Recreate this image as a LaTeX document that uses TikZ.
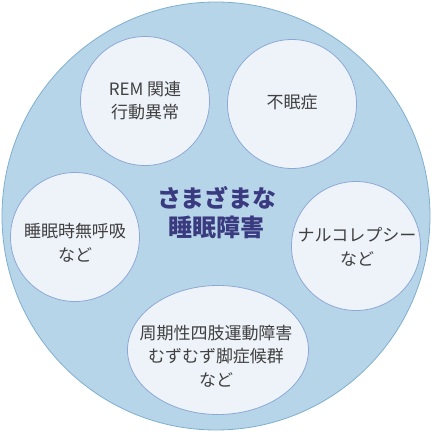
\documentclass[tikz,border=0pt]{standalone}
\usepackage{fontspec}
\setmainfont{Noto Sans CJK JP}
\usetikzlibrary{shapes.geometric}
\definecolor{outerfill}{HTML}{B7D5E8}
\definecolor{outerline}{HTML}{7FAFD0}
\definecolor{innerfill}{HTML}{EEF3FA}
\definecolor{innerline}{HTML}{8EA8D6}
\definecolor{titletext}{HTML}{3A3A80}
\definecolor{bodytext}{HTML}{404040}
\begin{document}
\begin{tikzpicture}[x=1pt, y=-1pt,
        disorder/.style={circle, draw=innerline, fill=innerfill, line width=0.8pt,
            minimum size=129pt, inner sep=0pt},
        disorderwide/.style={disorder, ellipse, minimum width=181pt, minimum height=129pt},
        disordertext/.style={align=center, text=bodytext, inner sep=0pt,
            font=\fontsize{17}{23.5}\selectfont}]
    \useasboundingbox (0, 0) rectangle (432, 432);

    \draw node[circle, draw=outerline, fill=outerfill, line width=0.8pt,
            minimum size=428pt, inner sep=0pt] (sleep) at (216, 216) {}
        node[text=titletext, align=center, font=\bfseries\fontsize{24}{29}\selectfont]
            (title) at (217, 212.5) {さまざまな\\睡眠障害};

    \draw node[disorder] (rem) at (145, 101) {}
        node[disorder] (insomnia) at (292, 104) {}
        node[disorder] (apnea) at (75, 237) {}
        node[disorder] (narco) at (356, 246) {}
        node[disorderwide] (limb) at (218, 350) {};

    \draw node[disordertext] (remtext) at (145, 100.5) {REM 関連\\行動異常}
        node[disordertext] (insomniatext) at (292, 102) {不眠症}
        node[disordertext] (apneatext) at (75, 243) {睡眠時無呼吸\\など}
        node[disordertext] (narcotext) at (357, 247) {ナルコレプシー\\など}
        node[disordertext] (limbtext) at (216, 356) {周期性四肢運動障害\\むずむず脚症候群\\など};
\end{tikzpicture}
\end{document}
